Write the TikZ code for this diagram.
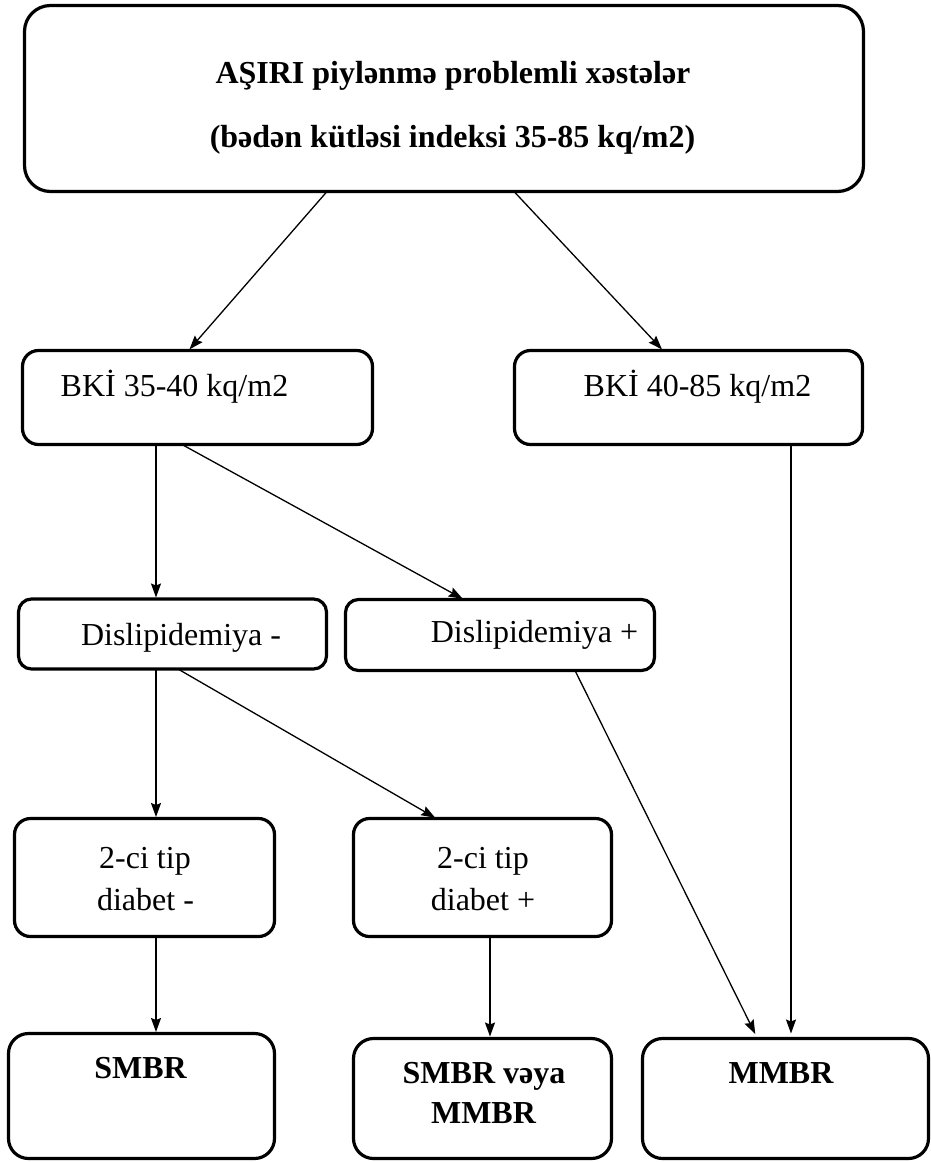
\documentclass[tikz,border=0pt]{standalone}
\usepackage{fontspec}
\setmainfont{Liberation Serif}
\usetikzlibrary{arrows.meta}
\newcommand\fsz{\fontsize{32}{38}\selectfont}
\tikzset{
  box/.style={draw, line width=3.2pt, rounded corners=16pt, inner sep=0pt, outer sep=0pt},
  arr/.style={line width=1.3pt, -{Stealth[length=14pt,width=10pt,inset=2pt]}},
  txt/.style={anchor=base, inner sep=0pt, font=\fsz},
  btxt/.style={txt, font=\fsz\bfseries},
}
\begin{document}
\begin{tikzpicture}[x=1pt,y=-1pt]
\useasboundingbox (0,0) rectangle (931,1162);
% boxes
\node[box, rounded corners=26pt, minimum width=839pt, minimum height=186pt] (top) at (444,98.5) {};
\node[box, minimum width=350pt, minimum height=94pt] (b35) at (197.5,397.5) {};
\node[box, minimum width=348pt, minimum height=94pt] (b40) at (688.5,397.5) {};
\node[box, rounded corners=13pt, minimum width=308pt, minimum height=70pt] (dm) at (172.5,634) {};
\node[box, rounded corners=13pt, minimum width=309pt, minimum height=71pt] (dp) at (500,635) {};
\node[box, minimum width=260pt, minimum height=118pt] (tm) at (144.5,877.5) {};
\node[box, minimum width=258pt, minimum height=118pt] (tp) at (482.5,877.5) {};
\node[box, rounded corners=20pt, minimum width=266pt, minimum height=125pt] (smbr) at (141.5,1096) {};
\node[box, rounded corners=20pt, minimum width=258pt, minimum height=120pt] (sv) at (482.5,1098.5) {};
\node[box, rounded corners=20pt, minimum width=286pt, minimum height=120pt] (mmbr) at (785.5,1098.5) {};
% texts
\node[btxt] (t1) at (453,83) {AŞIRI piylənmə problemli xəstələr};
\node[btxt] (t2) at (452.5,147) {(bədən kütləsi indeksi 35-85 kq/m2)};
\node[txt] (tb35) at (174.5,396) {BKİ 35-40 kq/m2};
\node[txt] (tb40) at (697.5,396) {BKİ 40-85 kq/m2};
\node[txt] (tdm) at (181,645) {Dislipidemiya -};
\node[txt] (tdp) at (534.5,642) {Dislipidemiya +};
\node[txt] (ttm1) at (145,868) {2-ci tip};
\node[txt] (ttm2) at (145.5,910) {diabet -};
\node[txt] (ttp1) at (483,868) {2-ci tip};
\node[txt] (ttp2) at (483,910) {diabet +};
\node[btxt] (tsmbr) at (140.5,1078) {SMBR};
\node[btxt] (tsv1) at (484,1083) {SMBR vəya};
\node[btxt] (tsv2) at (483.5,1123) {MMBR};
\node[btxt] (tmmbr) at (781,1083) {MMBR};
% arrows
\draw[arr, shorten >=1.5pt] ([xshift=-117pt]top.south) -- ([xshift=-9pt]b35.north);
\draw[arr, shorten >=1.5pt] ([xshift=70pt]top.south) -- ([xshift=-25.5pt]b40.north);
\draw[arr, shorten >=1.5pt] ([xshift=-41.5pt]b35.south) -- ([xshift=-16.5pt]dm.north);
\draw[arr, shorten >=1.5pt] ([xshift=-15.5pt]b35.south) -- ([xshift=-36pt]dp.north);
\draw[arr, shorten >=5pt] ([xshift=102.5pt]b40.south) -- ([xshift=5.5pt]mmbr.north);
\draw[arr, shorten >=1.5pt] ([xshift=-16.5pt]dm.south) -- ([xshift=11.5pt]tm.north);
\draw[arr, shorten >=1.5pt] ([xshift=5.5pt]dm.south) -- ([xshift=-46pt]tp.north);
\draw[arr, shorten >=5pt] ([xshift=75pt]dp.south) -- ([xshift=-28pt]mmbr.north);
\draw[arr, shorten >=1.5pt] ([xshift=11.5pt]tm.south) -- ([xshift=14.5pt]smbr.north);
\draw[arr, shorten >=2pt] ([xshift=7.5pt]tp.south) -- ([xshift=7.5pt]sv.north);
\end{tikzpicture}
\end{document}
